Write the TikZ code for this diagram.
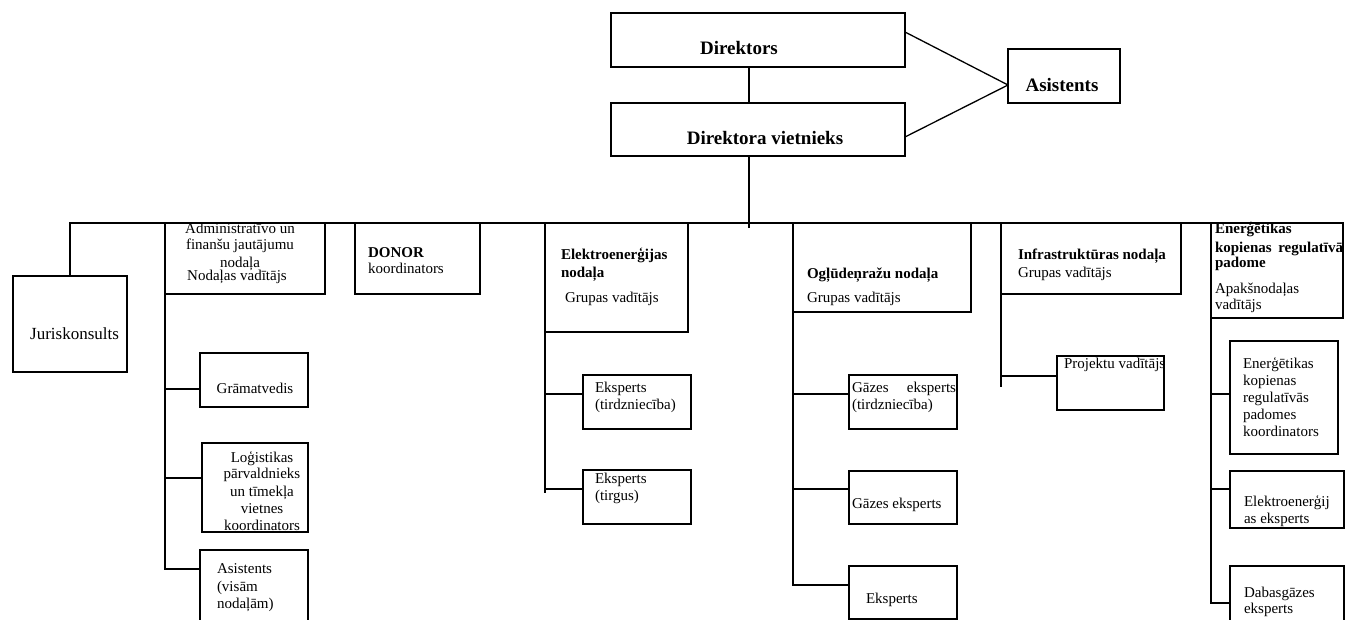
\documentclass[tikz,border=0pt]{standalone}
\usepackage{fontspec}
\setmainfont{Liberation Serif}
\begin{document}
\begin{tikzpicture}[x=1pt,y=-1pt,
  box/.style={draw, line width=1.3pt, fill=white, inner sep=0pt, outer sep=0pt, anchor=north west},
  ln/.style={line width=1.3pt},
  txt/.style={inner sep=0pt, outer sep=0pt, font=\fontsize{15}{17}\selectfont, align=left},
  big/.style={inner sep=0pt, outer sep=0pt, font=\fontsize{19}{22}\selectfont\bfseries}]
\useasboundingbox (0,0) rectangle (1354,620);
% top boxes
\node[box, minimum width=294pt, minimum height=54pt] (dir) at (611,13) {};
\node[box, minimum width=294pt, minimum height=53pt] (vie) at (611,103) {};
\node[box, minimum width=112pt, minimum height=54pt] (asi) at (1008,49) {};
\node[big, anchor=base] (tdir) at (739,55) {Direktors};
\node[big, anchor=base] (tvie) at (765,145) {Direktora vietnieks};
\node[big, anchor=base] (tasi) at (1062,92) {Asistents};
\draw[ln] ([xshift=-9pt]dir.south) -- ([xshift=-9pt]vie.north);
\draw[ln] ([yshift=8pt]dir.east) -- ([yshift=-9pt]asi.west);
\draw[ln] ([yshift=-7.5pt]vie.east) -- ([yshift=-9pt]asi.west);
\coordinate (busc) at (749,228);
\draw[ln] ([xshift=-9pt]vie.south) -- (busc);
% second level boxes
\node[box, minimum width=114pt, minimum height=96pt] (jur) at (13,276) {};
\node[box, minimum width=160pt, minimum height=71pt] (adm) at (165,223) {};
\node[box, minimum width=125pt, minimum height=71pt] (don) at (355,223) {};
\node[box, minimum width=143pt, minimum height=109pt] (ele) at (545,223) {};
\node[box, minimum width=178pt, minimum height=89pt] (ogl) at (793,223) {};
\node[box, minimum width=180pt, minimum height=71pt] (inf) at (1001,223) {};
\node[box, minimum width=132pt, minimum height=95pt] (ene) at (1211,223) {};
\draw[ln] (jur.north) |- (adm.north west);
\draw[ln] (adm.north east) -- (ene.north west);
% texts level 2
\node[inner sep=0pt, font=\fontsize{17}{20}\selectfont, anchor=base west] (tjur) at (30,339) {Juriskonsults};
\node[txt, anchor=base, align=center] (tadm1) at (240,268) {Administratīvo un\\[-1pt]finanšu jautājumu\\[1pt]nodaļa};
\node[txt, anchor=base] (tadm2) at (237,280) {Nodaļas vadītājs};
\node[txt, anchor=base west] (tdon) at (368,274) {\textbf{DONOR}\\koordinators};
\node[txt, anchor=base west] (tele) at (561,302) {\textbf{Elektroenerģijas}\\[1pt]\textbf{nodaļa}\\[8pt]\hspace*{4pt}Grupas vadītājs};
\node[txt, anchor=base west] (togl) at (807,302) {\textbf{Ogļūdeņražu nodaļa}\\[7pt]Grupas vadītājs};
\node[txt, anchor=base west] (tinf) at (1018,278) {\textbf{Infrastruktūras nodaļa}\\[1pt]Grupas vadītājs};
\node[txt, anchor=base west] (tene) at (1215,309) {\textbf{Enerģētikas}\\[2pt]\makebox[128pt][s]{\textbf{kopienas regulatīvā}}\\[-2pt]\textbf{padome}\\[9pt]Apakšnodaļas\\[-1pt]vadītājs};
% admin children
\node[box, minimum width=108pt, minimum height=54pt] (gram) at (200,353) {};
\node[box, minimum width=106pt, minimum height=89pt] (log) at (202,443) {};
\node[box, minimum width=108pt, minimum height=72pt] (asi2) at (200,550) {};
\node[txt, anchor=base] (tgram) at (255,393) {Grāmatvedis};
\node[txt, anchor=base, align=center] (tlog) at (262,530) {Loģistikas\\[-1pt]pārvaldnieks\\[1pt]un tīmekļa\\vietnes\\koordinators};
\node[txt, anchor=base west] (tasi2) at (217,608) {Asistents\\[1pt](visām\\nodaļām)};
\draw[ln] (adm.south west) -- ([yshift=17pt]asi2.west -| adm.south west) -- ([yshift=17pt]asi2.west);
\draw[ln] ([yshift=-9pt]gram.west -| adm.south west) -- ([yshift=-9pt]gram.west);
\draw[ln] ([yshift=9.5pt]log.west -| adm.south west) -- ([yshift=9.5pt]log.west);
% elektro children
\node[box, minimum width=108pt, minimum height=54pt] (ek1) at (583,375) {};
\node[box, minimum width=108pt, minimum height=54pt] (ek2) at (583,470) {};
\node[txt, anchor=base west] (tek1) at (595,409) {Eksperts\\(tirdzniecība)};
\node[txt, anchor=base west] (tek2) at (595,500) {Eksperts\\(tirgus)};
\coordinate (eleend) at (545,493);
\draw[ln] (ele.south west) -- (eleend);
\draw[ln] ([yshift=8pt]ek1.west -| ele.south west) -- ([yshift=8pt]ek1.west);
\draw[ln] ([yshift=8pt]ek2.west -| ele.south west) -- ([yshift=8pt]ek2.west);
% ogl children
\node[box, minimum width=108pt, minimum height=54pt] (g1) at (849,375) {};
\node[box, minimum width=108pt, minimum height=53pt] (g2) at (849,471) {};
\node[box, minimum width=108pt, minimum height=53pt] (g3) at (849,566) {};
\node[txt, anchor=base west] (tg1) at (852,409) {\makebox[104pt][s]{Gāzes eksperts}\\(tirdzniecība)};
\node[txt, anchor=base west] (tg2) at (852,508) {Gāzes eksperts};
\node[txt, anchor=base west] (tg3) at (866,603) {Eksperts};
\draw[ln] (ogl.south west) -- ([yshift=7.5pt]g3.west -| ogl.south west) -- ([yshift=7.5pt]g3.west);
\draw[ln] ([yshift=8pt]g1.west -| ogl.south west) -- ([yshift=8pt]g1.west);
\draw[ln] ([yshift=8.5pt]g2.west -| ogl.south west) -- ([yshift=8.5pt]g2.west);
% infra child
\node[box, minimum width=107pt, minimum height=54pt] (proj) at (1057,356) {};
\node[txt, anchor=base west] (tproj) at (1064,368) {Projektu vadītājs};
\coordinate (infend) at (1001,387);
\draw[ln] (inf.south west) -- (infend);
\draw[ln] ([yshift=7pt]proj.west -| inf.south west) -- ([yshift=7pt]proj.west);
% energ children
\node[box, minimum width=108pt, minimum height=113pt] (enk) at (1230,341) {};
\node[box, minimum width=114pt, minimum height=57pt] (el2) at (1230,471) {};
\node[box, minimum width=114pt, minimum height=60pt] (dab) at (1230,566) {};
\node[txt, anchor=base west] (tenk) at (1243,436) {Enerģētikas\\kopienas\\regulatīvās\\padomes\\koordinators};
\node[txt, anchor=base west] (tel2) at (1244,523) {Elektroenerģij\\as eksperts};
\node[txt, anchor=base west] (tdab) at (1244,613) {Dabasgāzes\\[-1pt]eksperts};
\draw[ln] (ene.south west) -- (1211,603) -- (1230,603);
\draw[ln] ([yshift=3.5pt]enk.west -| ene.south west) -- ([yshift=3.5pt]enk.west);
\draw[ln] ([yshift=10.5pt]el2.west -| ene.south west) -- ([yshift=10.5pt]el2.west);
\end{tikzpicture}
\end{document}
